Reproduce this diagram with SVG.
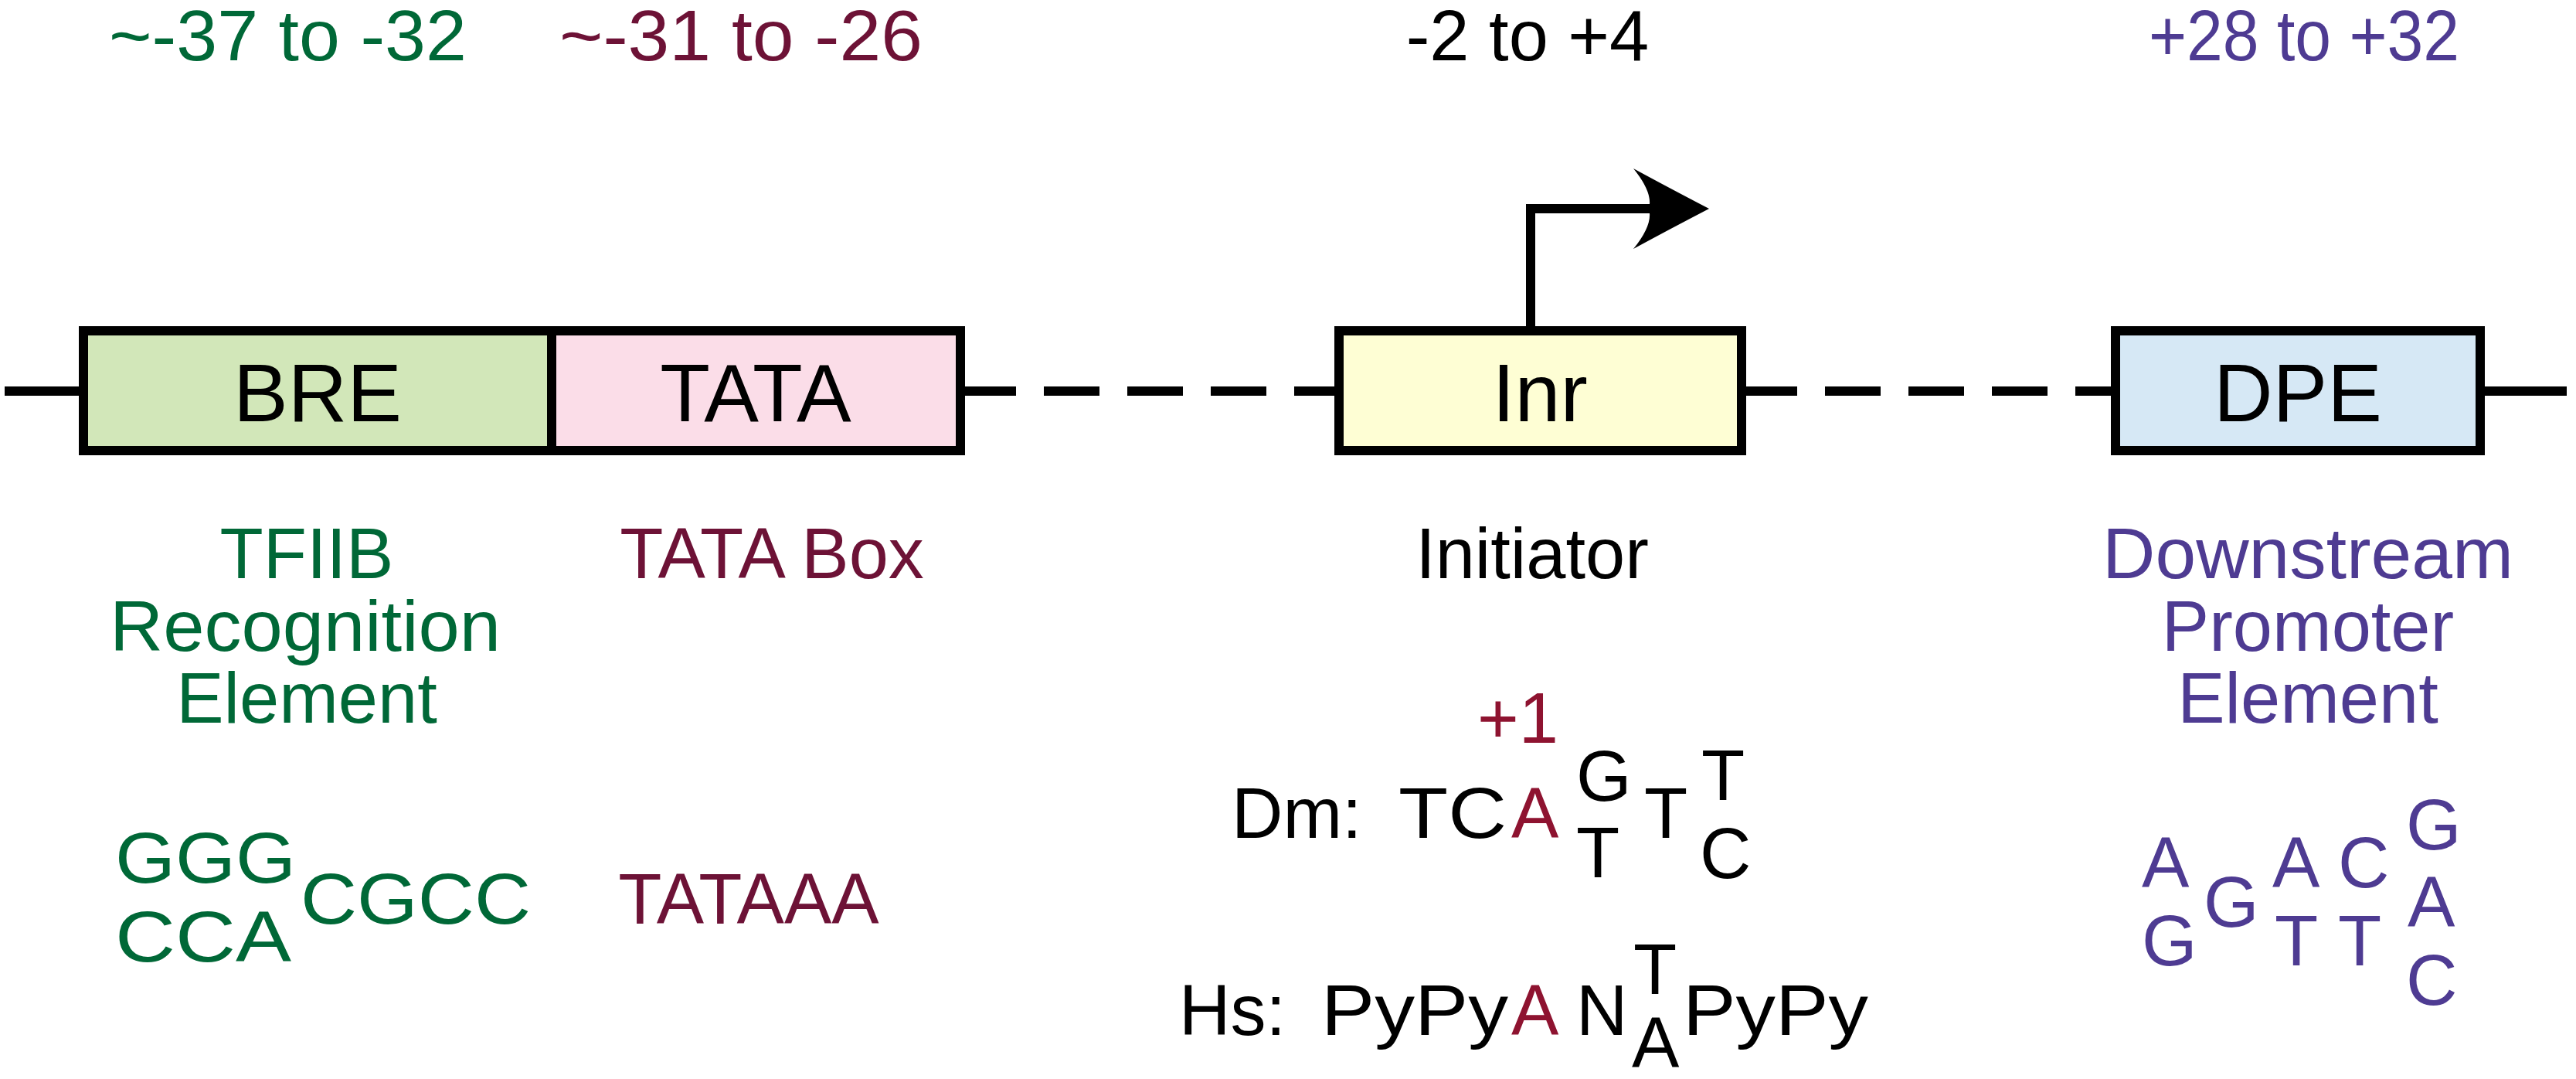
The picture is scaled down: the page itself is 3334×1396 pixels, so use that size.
<svg xmlns="http://www.w3.org/2000/svg" width="3334" height="1396" viewBox="0 0 3334 1396">
<style>
text{font-family:"Liberation Sans",Arial,sans-serif;font-size:92px}
.g{fill:#006837}.m{fill:#6D1236}.r{fill:#8E1330}.p{fill:#4E3B92}.k{fill:#000}
.box{stroke:#000;stroke-width:12}
.bl{font-size:106px;text-anchor:middle}
.c{text-anchor:middle}
</style>
<rect width="3334" height="1396" fill="#fff"/>
<g id="connectors" stroke="#000" stroke-width="12" fill="none">
<line x1="6" y1="506" x2="108" y2="506"/>
<line x1="1243" y1="506" x2="1733" y2="506" stroke-dasharray="72 36"/>
<line x1="2254" y1="506" x2="2738" y2="506" stroke-dasharray="72 36"/>
<line x1="3210" y1="506" x2="3322" y2="506"/>
<polyline points="1981,425 1981,270 2140,270"/>
<path d="M2212,270 Q2160,243 2114,218 Q2140,250 2134,270 Q2140,290 2114,322 Q2160,297 2212,270Z" fill="#000" stroke="none"/>
</g>
<g id="BRE"><rect class="box" x="108" y="428" width="606" height="155" fill="#D2E7B9"/><text class="bl k" x="411" y="545">BRE</text></g>
<g id="TATA"><rect class="box" x="714" y="428" width="529" height="155" fill="#FBDDE8"/><text class="bl k" x="978" y="545">TATA</text></g>
<g id="Inr"><rect class="box" x="1733" y="428" width="521" height="155" fill="#FEFED4"/><text class="bl k" x="1993" y="545">Inr</text></g>
<g id="DPE"><rect class="box" x="2738" y="428" width="472" height="155" fill="#D6E8F5"/><text class="bl k" x="2974" y="545">DPE</text></g>
<g id="labels">
<text class="g" x="141" y="78" textLength="463" lengthAdjust="spacingAndGlyphs">~-37 to -32</text>
<text class="m" x="724" y="78" textLength="470" lengthAdjust="spacingAndGlyphs">~-31 to -26</text>
<text class="c k" x="1977" y="78">-2 to +4</text>
<text class="p" x="2781" y="78" textLength="402" lengthAdjust="spacingAndGlyphs">+28 to +32</text>
<text class="c g" x="397" y="748">TFIIB</text>
<text class="g" x="142" y="842" textLength="506" lengthAdjust="spacingAndGlyphs">Recognition</text>
<text class="c g" x="397" y="935">Element</text>
<text class="c m" x="999" y="748">TATA Box</text>
<text class="c k" x="1983" y="748">Initiator</text>
<text class="p" x="2721" y="748" textLength="532" lengthAdjust="spacingAndGlyphs">Downstream</text>
<text class="c p" x="2987" y="842">Promoter</text>
<text class="c p" x="2987" y="935">Element</text>
<text class="g" x="149" y="1142" textLength="234" lengthAdjust="spacingAndGlyphs">GGG</text>
<text class="g" x="149" y="1244" textLength="228" lengthAdjust="spacingAndGlyphs">CCA</text>
<text class="g" x="389" y="1195" textLength="298" lengthAdjust="spacingAndGlyphs">CGCC</text>
<text class="c m" x="969" y="1195">TATAAA</text>
<text class="r" x="1912" y="961">+1</text>
<text class="k" x="1594" y="1084">Dm:</text>
<text class="k" x="1810" y="1084" textLength="140" lengthAdjust="spacingAndGlyphs">TC</text>
<text class="r" x="1956" y="1084">A</text>
<text class="k" x="2040" y="1036">G</text>
<text class="k" x="2040" y="1135">T</text>
<text class="k" x="2128" y="1084">T</text>
<text class="k" x="2202" y="1035">T</text>
<text class="k" x="2200" y="1136">C</text>
<text class="k" x="1526" y="1339">Hs:</text>
<text class="k" x="1710" y="1339" textLength="242" lengthAdjust="spacingAndGlyphs">PyPy</text>
<text class="r" x="1956" y="1339">A</text>
<text class="k" x="2040" y="1339">N</text>
<text class="k" x="2114" y="1286">T</text>
<text class="k" x="2112" y="1381">A</text>
<text class="k" x="2178" y="1339" textLength="240" lengthAdjust="spacingAndGlyphs">PyPy</text>
<text class="p" x="2772" y="1148">A</text>
<text class="p" x="2772" y="1249">G</text>
<text class="p" x="2852" y="1199">G</text>
<text class="p" x="2941" y="1148">A</text>
<text class="p" x="3026" y="1148">C</text>
<text class="p" x="2944" y="1249">T</text>
<text class="p" x="3026" y="1249">T</text>
<text class="p" x="3114" y="1099">G</text>
<text class="p" x="3116" y="1199">A</text>
<text class="p" x="3114" y="1300">C</text>
</g>
</svg>
